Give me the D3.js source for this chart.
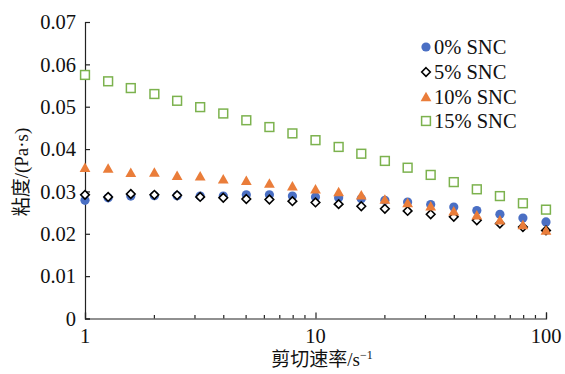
<!DOCTYPE html>
<html>
<head>
<meta charset="utf-8">
<script src="https://cdn.jsdelivr.net/npm/d3@7"></script>
<style>
  html, body { margin: 0; padding: 0; background: #fff; }
  svg text { font-family: "Liberation Serif", "Times New Roman", "Noto Sans CJK SC", serif; fill: #111; }
</style>
</head>
<body>
<svg id="chart" width="565" height="374"></svg>
<script>
// Shear rate (s^-1) for each measurement
const shearRates = [1, 1.26, 1.58, 2, 2.51, 3.16, 3.98, 5.01, 6.31, 7.94, 10,
                    12.6, 15.8, 20, 25.1, 31.6, 39.8, 50.1, 63.1, 79.4, 100];

// Viscosity (Pa·s) per SNC content
const snc0  = [0.0279, 0.0285, 0.0289, 0.0290, 0.0290, 0.0289, 0.0289, 0.0292, 0.0292, 0.0289, 0.0287,
               0.0285, 0.0283, 0.0279, 0.0275, 0.0269, 0.0263, 0.0255, 0.0246, 0.0237, 0.0228];
const snc5  = [0.0292, 0.0287, 0.0294, 0.0292, 0.0291, 0.0287, 0.0285, 0.0282, 0.0281, 0.0277, 0.0274,
               0.0270, 0.0265, 0.0259, 0.0254, 0.0246, 0.0240, 0.0232, 0.0224, 0.0216, 0.0208];
const snc10 = [0.0356, 0.0354, 0.0344, 0.0345, 0.0337, 0.0336, 0.0329, 0.0325, 0.0319, 0.0312, 0.0305,
               0.0299, 0.0291, 0.0281, 0.0273, 0.0265, 0.0253, 0.0244, 0.0232, 0.0221, 0.0208];
const snc15 = [0.0575, 0.0560, 0.0544, 0.0530, 0.0514, 0.0499, 0.0484, 0.0468, 0.0452, 0.0437, 0.0421,
               0.0405, 0.0389, 0.0372, 0.0356, 0.0339, 0.0322, 0.0305, 0.0289, 0.0272, 0.0257];

const seriesNames = ["0% SNC", "5% SNC", "10% SNC", "15% SNC"];
const yTicks = [0, 0.01, 0.02, 0.03, 0.04, 0.05, 0.06, 0.07];
const xTicks = [1, 10, 100];

const series = [
  { name: seriesNames[0], values: snc0,  shape: "circle" },
  { name: seriesNames[1], values: snc5,  shape: "diamond" },
  { name: seriesNames[2], values: snc10, shape: "triangle" },
  { name: seriesNames[3], values: snc15, shape: "square" }
];

const svg = d3.select("#chart");
const x = d3.scaleLog().domain([1, 100]).range([85, 546]);
const y = d3.scaleLinear().domain([0, 0.07]).range([318.5, 22]);

// Marker painter
function drawMarker(g, shape, cx, cy) {
  if (shape === "circle") {
    g.append("circle").attr("cx", cx).attr("cy", cy).attr("r", 4.6)
      .attr("fill", "#4a6fc4");
  } else if (shape === "diamond") {
    const s = 4.3;
    g.append("path")
      .attr("d", `M${cx},${cy - s}L${cx + s},${cy}L${cx},${cy + s}L${cx - s},${cy}Z`)
      .attr("fill", "#fff").attr("stroke", "#000").attr("stroke-width", 1.6);
  } else if (shape === "triangle") {
    const w = 5.4, h = 9.5;
    g.append("path")
      .attr("d", `M${cx},${cy - h * 0.55}L${cx + w},${cy + h * 0.45}L${cx - w},${cy + h * 0.45}Z`)
      .attr("fill", "#ea7d3a");
  } else {
    const s = 4.4;
    g.append("rect").attr("x", cx - s).attr("y", cy - s)
      .attr("width", 2 * s).attr("height", 2 * s)
      .attr("fill", "#fff").attr("stroke", "#7cb24e").attr("stroke-width", 1.5);
  }
}

// Y axis
const yAxis = svg.append("g").attr("transform", `translate(${x(1)},0)`)
  .call(d3.axisRight(y).tickValues(yTicks).tickSize(5).tickFormat(() => ""));
yAxis.select(".domain").attr("stroke", "#222").attr("stroke-width", 1.2);
yAxis.selectAll(".tick line").attr("stroke", "#222").attr("stroke-width", 1.2);

svg.append("g").selectAll("text").data(yTicks).join("text")
  .attr("x", 76).attr("y", d => y(d)).attr("dy", "0.35em")
  .attr("text-anchor", "end").attr("font-size", 20.5)
  .text(d => d === 0 ? "0" : d3.format(".2f")(d));

// X axis with minor ticks
const minorTicks = x.ticks().filter(t => xTicks.indexOf(t) < 0);
const xAxisG = svg.append("g").attr("transform", `translate(0,${y(0)})`);
xAxisG.call(d3.axisTop(x).tickValues(xTicks).tickSize(6).tickFormat(() => ""));
xAxisG.select(".domain").attr("stroke", "#222").attr("stroke-width", 1.2);
xAxisG.selectAll(".tick line").attr("stroke", "#222").attr("stroke-width", 1.2);
xAxisG.append("g").selectAll("line").data(minorTicks).join("line")
  .attr("x1", d => x(d)).attr("x2", d => x(d)).attr("y1", 0).attr("y2", -3.5)
  .attr("stroke", "#222").attr("stroke-width", 1.2);

svg.append("g").selectAll("text").data(xTicks).join("text")
  .attr("x", d => x(d)).attr("y", 343)
  .attr("text-anchor", "middle").attr("font-size", 20.5)
  .text(d => d);

// Axis titles
const xt = svg.append("text").attr("x", 322).attr("y", 366)
  .attr("text-anchor", "middle").attr("font-size", 19);
xt.append("tspan").text("剪切速率/s");
xt.append("tspan").attr("dy", -7).attr("font-size", 12).text("−1");

svg.append("text")
  .attr("transform", "translate(28,172) rotate(-90)")
  .attr("text-anchor", "middle").attr("font-size", 19)
  .text("粘度/(Pa·s)");

// Data markers
series.forEach(s => {
  const g = svg.append("g");
  s.values.forEach((v, i) => drawMarker(g, s.shape, x(shearRates[i]), y(v)));
});

// Legend
const legendY = [47, 72, 97, 121];
series.forEach((s, i) => {
  const g = svg.append("g");
  drawMarker(g, s.shape, 426, legendY[i]);
  g.append("text").attr("x", 434).attr("y", legendY[i]).attr("dy", "0.35em")
    .attr("font-size", 20.5).text(s.name);
});
</script>
</body>
</html>
